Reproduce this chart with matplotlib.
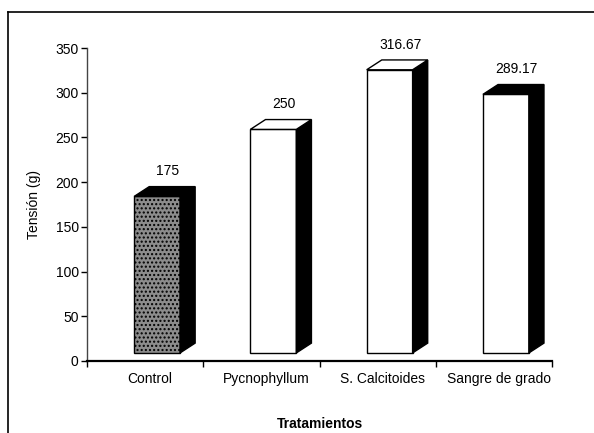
import matplotlib.pyplot as plt
from matplotlib.patches import Polygon
import matplotlib.lines as mlines

plt.rcParams['font.family'] = ['Liberation Sans', 'DejaVu Sans']

# data
categories = ['Control', 'Pycnophyllum', 'S. Calcitoides', 'Sangre de grado']
values = [175, 250, 316.67, 289.17]
value_labels = ['175', '250', '316.67', '289.17']

# 3D look of the old chart
base = 9          # floor offset of the front face
bar_left = 0.405  # front face start inside each category slot
bar_w = 0.395
depth_x = 0.13
depth_y = 11
front_colors = ['#8c8c8c', 'white', 'white', 'white']
top_colors = ['black', 'white', 'white', 'black']

fig = plt.figure(figsize=(5.94, 4.33), dpi=100)
ax = fig.add_axes([0.1465, 0.1663, 0.783, 0.7228])

for i, v in enumerate(values):
    x0 = i + bar_left
    x1 = x0 + bar_w
    y0 = base
    y1 = base + v
    # front face
    ax.bar(x0, v, width=bar_w, bottom=y0, align='edge',
           color=front_colors[i], edgecolor='black', linewidth=1.0,
           hatch='....' if i == 0 else None, zorder=3)
    # right side
    side = Polygon([(x1, y0), (x1 + depth_x, y0 + depth_y),
                    (x1 + depth_x, y1 + depth_y), (x1, y1)],
                   closed=True, facecolor='black', edgecolor='black',
                   linewidth=1.0, zorder=3)
    ax.add_patch(side)
    # top
    top = Polygon([(x0, y1), (x0 + depth_x, y1 + depth_y),
                   (x1 + depth_x, y1 + depth_y), (x1, y1)],
                  closed=True, facecolor=top_colors[i], edgecolor='black',
                  linewidth=1.0, zorder=3)
    ax.add_patch(top)
    ax.text(x0 + bar_w / 2 + depth_x * 0.7, y1 + depth_y + 17, value_labels[i],
            ha='center', va='center', fontsize=10)

ax.set_xlim(0, 4)
ax.set_ylim(0, 350)
ax.set_yticks(range(0, 351, 50))
ax.set_xticks(range(0, 5))
ax.set_xticklabels([])
ax.set_xticks([i + 0.54 for i in range(4)], minor=True)
ax.set_xticklabels(categories, minor=True, fontsize=10)
ax.tick_params(axis='x', which='minor', length=0, pad=8)
ax.tick_params(axis='x', which='major', length=4, width=1, direction='out')
ax.tick_params(axis='y', length=4, width=1, direction='out', pad=2, labelsize=10)

for s in ['top', 'right']:
    ax.spines[s].set_visible(False)
ax.spines['left'].set_color('#444444')
ax.spines['left'].set_linewidth(1.0)
ax.spines['bottom'].set_linewidth(1.6)

ax.set_ylabel('Tensión (g)', fontsize=10, labelpad=10)
ax.set_xlabel('Tratamientos', fontsize=10, fontweight='bold', labelpad=22)

# outer frame of the scanned figure
fig.add_artist(mlines.Line2D([8 / 594, 1], [1 - 12 / 433, 1 - 12 / 433],
                             transform=fig.transFigure, color='black', linewidth=1.2))
fig.add_artist(mlines.Line2D([8 / 594, 8 / 594], [0, 1 - 12 / 433],
                             transform=fig.transFigure, color='black', linewidth=1.2))

fig.savefig('out.png', dpi=100)
